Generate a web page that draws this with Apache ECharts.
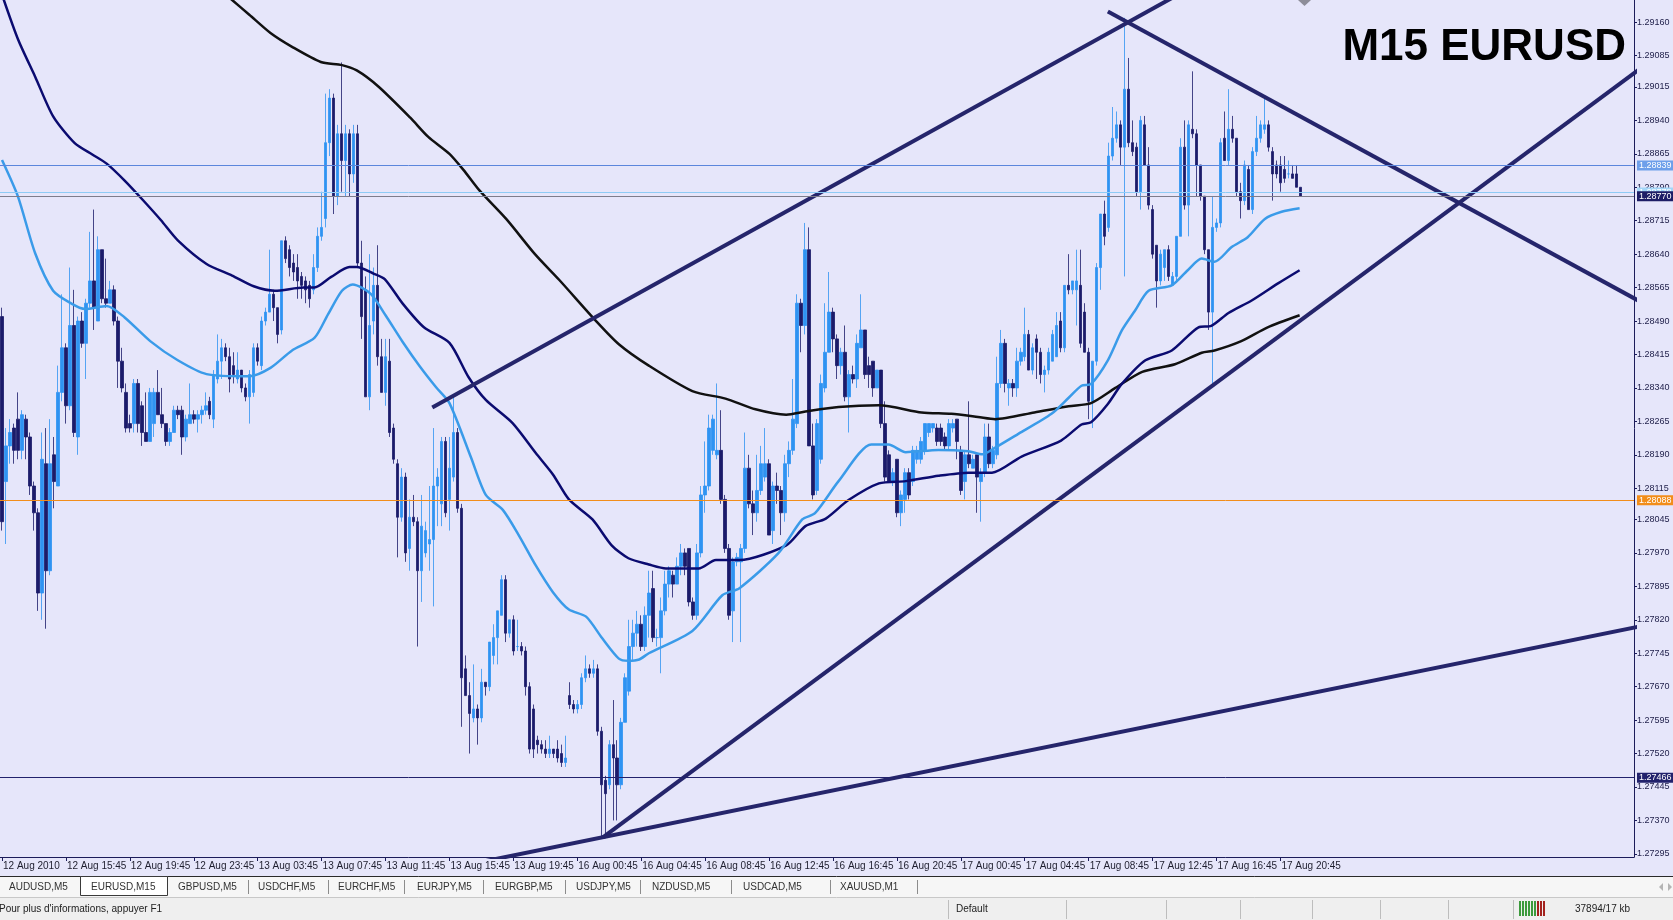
<!DOCTYPE html>
<html><head><meta charset="utf-8">
<script src="https://cdn.jsdelivr.net/npm/echarts@6/dist/echarts.min.js"></script>
<style>html,body{margin:0;padding:0;background:#e6e6fa;overflow:hidden}#c{width:1673px;height:920px}</style>
</head><body><div id="c"></div><script>
// ---- data ----
const xTickLabels = ['12 Aug 2010','12 Aug 15:45','12 Aug 19:45','12 Aug 23:45','13 Aug 03:45','13 Aug 07:45','13 Aug 11:45','13 Aug 15:45','13 Aug 19:45','16 Aug 00:45','16 Aug 04:45','16 Aug 08:45','16 Aug 12:45','16 Aug 16:45','16 Aug 20:45','17 Aug 00:45','17 Aug 04:45','17 Aug 08:45','17 Aug 12:45','17 Aug 16:45','17 Aug 20:45'];
const barsPerTick = 16;
const futureBars = 83;
const yTicks = [1.29160,1.29085,1.29015,1.28940,1.28865,1.28790,1.28715,1.28640,1.28565,1.28490,1.28415,1.28340,1.28265,1.28190,1.28115,1.28045,1.27970,1.27895,1.27820,1.27745,1.27670,1.27595,1.27520,1.27445,1.27370,1.27295];
const yMin = 1.27288, yMax = 1.29210;
// [open, close, low, high]
const candles = [
[1.2850,1.2804,1.2802,1.2852],[1.2813,1.2821,1.2799,1.2825],[1.2821,1.2824,1.2817,1.2827],[1.2825,1.2820,1.2817,1.2826],[1.2827,1.2820,1.2818,1.2833],
[1.2820,1.2828,1.2818,1.2829],[1.2827,1.2823,1.2818,1.2828],[1.2823,1.2812,1.2810,1.2824],[1.2812,1.2806,1.2802,1.2813],[1.2806,1.2788,1.2784,1.2807],
[1.2788,1.2818,1.2782,1.2824],[1.2817,1.2793,1.2780,1.2825],[1.2793,1.2817,1.2792,1.2827],[1.2819,1.2813,1.2807,1.2823],[1.2812,1.2833,1.2812,1.2839],
[1.2833,1.2843,1.2831,1.2855],[1.2843,1.2830,1.2826,1.2844],[1.2830,1.2848,1.2829,1.2861],[1.2848,1.2824,1.2823,1.2856],[1.2823,1.2849,1.2819,1.2850],
[1.2849,1.2844,1.2843,1.2851],[1.2844,1.2853,1.2836,1.2854],[1.2853,1.2858,1.2852,1.2869],[1.2858,1.2852,1.2847,1.2874],[1.2849,1.2865,1.2849,1.2868],
[1.2865,1.2854,1.2853,1.2865],[1.2854,1.2853,1.2852,1.2863],[1.2853,1.2856,1.2853,1.2858],[1.2856,1.2849,1.2848,1.2857],[1.2849,1.2840,1.2834,1.2850],
[1.2840,1.2834,1.2833,1.2843],[1.2833,1.2825,1.2824,1.2835],[1.2826,1.2825,1.2824,1.2828],[1.2826,1.2835,1.2824,1.2836],[1.2835,1.2826,1.2824,1.2836],
[1.2830,1.2824,1.2821,1.2831],[1.2824,1.2822,1.2822,1.2833],[1.2822,1.2833,1.2822,1.2834],[1.2826,1.2833,1.2823,1.2834],[1.2833,1.2828,1.2828,1.2838],
[1.2828,1.2826,1.2825,1.2834],[1.2826,1.2822,1.2821,1.2826],[1.2822,1.2824,1.2821,1.2825],[1.2824,1.2829,1.2824,1.2830],[1.2829,1.2828,1.2827,1.2830],
[1.2829,1.2823,1.2819,1.2830],[1.2823,1.2827,1.2822,1.2828],[1.2826,1.2828,1.2826,1.2835],[1.2828,1.2827,1.2826,1.2829],[1.2827,1.2828,1.2824,1.2829],
[1.2828,1.2829,1.2826,1.2830],[1.2829,1.2830,1.2828,1.2833],[1.2831,1.2828,1.2827,1.2832],[1.2827,1.2837,1.2825,1.2838],[1.2836,1.2840,1.2835,1.2846],
[1.2840,1.2843,1.2836,1.2845],[1.2843,1.2841,1.2840,1.2844],[1.2841,1.2836,1.2833,1.2843],[1.2839,1.2837,1.2835,1.2842],[1.2836,1.2838,1.2835,1.2842],
[1.2838,1.2834,1.2833,1.2838],[1.2834,1.2832,1.2831,1.2835],[1.2832,1.2837,1.2826,1.2838],[1.2833,1.2843,1.2832,1.2844],[1.2843,1.2840,1.2839,1.2844],
[1.2839,1.2849,1.2838,1.2850],[1.2849,1.2851,1.2848,1.2852],[1.2851,1.2855,1.2851,1.2865],[1.2855,1.2852,1.2849,1.2856],[1.2852,1.2846,1.2844,1.2852],
[1.2847,1.2867,1.2846,1.2867],[1.2867,1.2863,1.2862,1.2868],[1.2865,1.2861,1.2859,1.2866],[1.2862,1.2860,1.2858,1.2864],[1.2861,1.2858,1.2854,1.2864],
[1.2859,1.2857,1.2854,1.2860],[1.2858,1.2856,1.2853,1.2859],[1.2857,1.2854,1.2852,1.2858],[1.2856,1.2861,1.2855,1.2864],[1.2861,1.2868,1.2860,1.2870],
[1.2868,1.2870,1.2867,1.2878],[1.2872,1.2889,1.2870,1.2900],[1.2889,1.2899,1.2886,1.2901],[1.2899,1.2877,1.2873,1.2900],[1.2877,1.2891,1.2875,1.2893],
[1.2891,1.2885,1.2878,1.2907],[1.2885,1.2891,1.2877,1.2893],[1.2891,1.2882,1.2877,1.2892],[1.2882,1.2891,1.2880,1.2893],[1.2891,1.2862,1.2861,1.2893],
[1.2862,1.2850,1.2845,1.2867],[1.2856,1.2832,1.2832,1.2859],[1.2832,1.2848,1.2829,1.2864],[1.2849,1.2857,1.2846,1.2861],[1.2857,1.2841,1.2839,1.2866],
[1.2841,1.2833,1.2833,1.2845],[1.2833,1.2841,1.2830,1.2845],[1.2840,1.2824,1.2823,1.2845],[1.2825,1.2818,1.2817,1.2826],[1.2817,1.2805,1.2796,1.2818],
[1.2805,1.2814,1.2804,1.2816],[1.2814,1.2797,1.2795,1.2815],[1.2798,1.2805,1.2793,1.2809],[1.2805,1.2804,1.2803,1.2810],[1.2804,1.2793,1.2776,1.2805],
[1.2793,1.2803,1.2786,1.2810],[1.2797,1.2802,1.2796,1.2804],[1.2799,1.2800,1.2793,1.2812],[1.2800,1.2812,1.2785,1.2825],[1.2812,1.2814,1.2803,1.2816],
[1.2808,1.2822,1.2803,1.2823],[1.2822,1.2806,1.2805,1.2823],[1.2809,1.2816,1.2802,1.2823],[1.2814,1.2824,1.2813,1.2832],[1.2824,1.2807,1.2806,1.2825],
[1.2807,1.2769,1.2758,1.2808],[1.2771,1.2765,1.2765,1.2774],[1.2765,1.2761,1.2752,1.2768],[1.2760,1.2762,1.2759,1.2772],[1.2762,1.2760,1.2754,1.2763],
[1.2760,1.2768,1.2759,1.2771],[1.2768,1.2767,1.2765,1.2768],[1.2767,1.2777,1.2766,1.2777],[1.2774,1.2778,1.2772,1.2781],[1.2778,1.2784,1.2772,1.2784],
[1.2783,1.2791,1.2783,1.2792],[1.2791,1.2779,1.2777,1.2792],[1.2779,1.2782,1.2778,1.2782],[1.2782,1.2775,1.2774,1.2783],[1.2776,1.2776,1.2775,1.2782],
[1.2776,1.2775,1.2774,1.2777],[1.2775,1.2767,1.2765,1.2776],[1.2767,1.2753,1.2752,1.2768],[1.2762,1.2753,1.2751,1.2763],[1.2755,1.2754,1.2752,1.2756],
[1.2754,1.2753,1.2752,1.2755],[1.2753,1.2752,1.2751,1.2755],[1.2752,1.2753,1.2751,1.2756],[1.2753,1.2752,1.2751,1.2753],[1.2753,1.2751,1.2750,1.2755],
[1.2752,1.2750,1.2749,1.2754],[1.2750,1.2751,1.2749,1.2756],[1.2765,1.2763,1.2762,1.2768],[1.2763,1.2762,1.2761,1.2764],[1.2762,1.2763,1.2761,1.2764],
[1.2763,1.2769,1.2762,1.2770],[1.2769,1.2771,1.2768,1.2774],[1.2771,1.2770,1.2769,1.2772],[1.2770,1.2771,1.2769,1.2773],[1.2771,1.2757,1.2756,1.2772],
[1.2757,1.2745,1.2733,1.2758],[1.2746,1.2743,1.2733,1.2747],[1.2745,1.2754,1.2744,1.2755],[1.2754,1.2751,1.2737,1.2764],[1.2751,1.2745,1.2737,1.2755],
[1.2745,1.2759,1.2744,1.2760],[1.2759,1.2769,1.2759,1.2770],[1.2766,1.2776,1.2765,1.2782],[1.2776,1.2779,1.2773,1.2782],[1.2779,1.2781,1.2776,1.2784],
[1.2781,1.2776,1.2775,1.2783],[1.2776,1.2783,1.2775,1.2785],[1.2783,1.2788,1.2778,1.2793],[1.2789,1.2778,1.2777,1.2793],[1.2778,1.2778,1.2776,1.2780],
[1.2778,1.2784,1.2770,1.2787],[1.2784,1.2790,1.2783,1.2793],[1.2790,1.2793,1.2787,1.2794],[1.2792,1.2790,1.2787,1.2793],[1.2790,1.2794,1.2790,1.2796],
[1.2794,1.2797,1.2792,1.2799],[1.2797,1.2794,1.2792,1.2798],[1.2798,1.2786,1.2785,1.2798],[1.2786,1.2783,1.2782,1.2787],[1.2783,1.2797,1.2782,1.2799],
[1.2797,1.2810,1.2796,1.2812],[1.2810,1.2812,1.2806,1.2822],[1.2812,1.2825,1.2811,1.2828],[1.2820,1.2827,1.2819,1.2828],[1.2819,1.2820,1.2818,1.2835],
[1.2820,1.2809,1.2808,1.2829],[1.2809,1.2798,1.2797,1.2810],[1.2798,1.2783,1.2782,1.2799],[1.2784,1.2795,1.2777,1.2796],[1.2795,1.2796,1.2794,1.2797],
[1.2795,1.2798,1.2777,1.2799],[1.2798,1.2816,1.2797,1.2824],[1.2816,1.2808,1.2807,1.2819],[1.2808,1.2806,1.2801,1.2811],[1.2806,1.2811,1.2804,1.2819],
[1.2811,1.2817,1.2810,1.2821],[1.2814,1.2817,1.2813,1.2825],[1.2817,1.2801,1.2801,1.2818],[1.2802,1.2812,1.2799,1.2813],[1.2812,1.2811,1.2808,1.2815],
[1.2811,1.2806,1.2801,1.2812],[1.2806,1.2817,1.2804,1.2819],[1.2817,1.2820,1.2814,1.2822],[1.2820,1.2827,1.2819,1.2836],[1.2826,1.2853,1.2825,1.2855],
[1.2853,1.2848,1.2842,1.2854],[1.2848,1.2865,1.2846,1.2871],[1.2865,1.2821,1.2821,1.2870],[1.2821,1.2810,1.2809,1.2826],[1.2811,1.2826,1.2810,1.2827],
[1.2818,1.2835,1.2817,1.2837],[1.2834,1.2842,1.2833,1.2853],[1.2842,1.2851,1.2842,1.2860],[1.2851,1.2845,1.2842,1.2852],[1.2845,1.2839,1.2836,1.2846],
[1.2839,1.2842,1.2837,1.2843],[1.2842,1.2832,1.2831,1.2848],[1.2832,1.2837,1.2824,1.2838],[1.2837,1.2836,1.2835,1.2839],[1.2836,1.2844,1.2834,1.2846],
[1.2843,1.2847,1.2843,1.2855],[1.2847,1.2837,1.2836,1.2847],[1.2839,1.2837,1.2834,1.2841],[1.2840,1.2834,1.2832,1.2840],[1.2834,1.2838,1.2834,1.2838],
[1.2838,1.2826,1.2825,1.2838],[1.2826,1.2814,1.2813,1.2831],[1.2819,1.2813,1.2813,1.2820],[1.2813,1.2815,1.2812,1.2816],[1.2818,1.2806,1.2805,1.2818],
[1.2806,1.2810,1.2803,1.2811],[1.2809,1.2815,1.2806,1.2816],[1.2815,1.2810,1.2809,1.2816],[1.2813,1.2820,1.2812,1.2821],[1.2818,1.2820,1.2817,1.2821],
[1.2818,1.2822,1.2817,1.2823],[1.2820,1.2826,1.2819,1.2826],[1.2824,1.2826,1.2823,1.2826],[1.2825,1.2826,1.2824,1.2826],[1.2825,1.2822,1.2821,1.2826],
[1.2825,1.2822,1.2821,1.2826],[1.2823,1.2821,1.2820,1.2824],[1.2821,1.2826,1.2820,1.2827],[1.2825,1.2826,1.2824,1.2827],[1.2827,1.2822,1.2818,1.2827],
[1.2820,1.2811,1.2810,1.2821],[1.2813,1.2819,1.2809,1.2820],[1.2819,1.2817,1.2816,1.2831],[1.2816,1.2818,1.2816,1.2819],[1.2819,1.2814,1.2806,1.2819],
[1.2813,1.2815,1.2804,1.2816],[1.2815,1.2823,1.2814,1.2826],[1.2823,1.2817,1.2816,1.2826],[1.2817,1.2820,1.2816,1.2821],[1.2819,1.2835,1.2818,1.2841],
[1.2835,1.2844,1.2834,1.2847],[1.2844,1.2835,1.2833,1.2845],[1.2834,1.2835,1.2830,1.2836],[1.2835,1.2834,1.2832,1.2836],[1.2834,1.2840,1.2832,1.2843],
[1.2840,1.2842,1.2839,1.2843],[1.2841,1.2846,1.2840,1.2852],[1.2846,1.2838,1.2838,1.2847],[1.2838,1.2843,1.2837,1.2844],[1.2845,1.2842,1.2836,1.2846],
[1.2842,1.2837,1.2835,1.2843],[1.2837,1.2838,1.2833,1.2839],[1.2838,1.2842,1.2837,1.2843],[1.2840,1.2846,1.2840,1.2847],[1.2841,1.2848,1.2841,1.2851],
[1.2849,1.2843,1.2842,1.2851],[1.2843,1.2857,1.2842,1.2857],[1.2857,1.2856,1.2855,1.2864],[1.2856,1.2858,1.2855,1.2858],[1.2856,1.2858,1.2848,1.2865],
[1.2857,1.2844,1.2843,1.2865],[1.2851,1.2842,1.2842,1.2853],[1.2842,1.2831,1.2827,1.2843],[1.2831,1.2840,1.2825,1.2840],[1.2840,1.2861,1.2839,1.2862],
[1.2861,1.2873,1.2856,1.2873],[1.2873,1.2868,1.2866,1.2876],[1.2870,1.2886,1.2869,1.2889],[1.2886,1.2890,1.2885,1.2897],[1.2890,1.2893,1.2889,1.2896],
[1.2893,1.2888,1.2884,1.2894],[1.2888,1.2901,1.2859,1.2917],[1.2901,1.2889,1.2888,1.2908],[1.2889,1.2887,1.2886,1.2894],[1.2888,1.2878,1.2877,1.2889],
[1.2878,1.2894,1.2874,1.2895],[1.2893,1.2884,1.2884,1.2895],[1.2884,1.2875,1.2874,1.2888],[1.2874,1.2864,1.2863,1.2875],[1.2866,1.2858,1.2852,1.2866],
[1.2858,1.2864,1.2857,1.2865],[1.2861,1.2865,1.2858,1.2865],[1.2865,1.2859,1.2858,1.2866],[1.2857,1.2859,1.2857,1.2860],[1.2859,1.2868,1.2858,1.2868],
[1.2868,1.2888,1.2868,1.2890],[1.2888,1.2875,1.2874,1.2894],[1.2875,1.2893,1.2868,1.2894],[1.2892,1.2891,1.2890,1.2905],[1.2891,1.2884,1.2877,1.2892],
[1.2884,1.2877,1.2876,1.2884],[1.2877,1.2865,1.2864,1.2877],[1.2865,1.2851,1.2847,1.2865],[1.2851,1.2870,1.2835,1.2877],[1.2870,1.2871,1.2869,1.2872],
[1.2871,1.2889,1.2870,1.2890],[1.2890,1.2885,1.2885,1.2896],[1.2885,1.2892,1.2884,1.2901],[1.2892,1.2890,1.2889,1.2895],[1.2890,1.2878,1.2877,1.2890],
[1.2878,1.2876,1.2872,1.2880],[1.2876,1.2884,1.2875,1.2885],[1.2883,1.2874,1.2874,1.2884],[1.2874,1.2887,1.2873,1.2888],[1.2887,1.2890,1.2886,1.2895],
[1.2890,1.2893,1.2889,1.2894],[1.2892,1.2893,1.2891,1.2899],[1.2893,1.2888,1.2887,1.2894],[1.2887,1.2882,1.2876,1.2888],[1.2884,1.2882,1.2881,1.2885],
[1.2884,1.2880,1.2878,1.2886],[1.2883,1.2881,1.2880,1.2886],[1.2882,1.2882,1.2881,1.2885],[1.2882,1.2881,1.2881,1.2884],[1.2882,1.2879,1.2879,1.2884],
[1.2879,1.2877,1.2877,1.2879]
];
// moving averages: [bar index, price]
const maFast = [[0,1.28851],[4,1.28769],[8.3,1.28642],[12.8,1.28558],[17.4,1.28529],[20.8,1.28517],[26.2,1.28524],[30.7,1.28498],[37.1,1.28445],[44,1.28402],[51.2,1.28371],[61.9,1.28366],[67.2,1.28385],[72.6,1.28424],[78.2,1.28452],[81.6,1.28505],[85.1,1.28558],[87.8,1.28572],[92.3,1.28551],[96,1.28503],[100.3,1.28443],[104.6,1.28388],[108.6,1.28342],[112,1.28306],[117.4,1.28184],[121.1,1.28100],[125.4,1.28066],[129.4,1.28009],[133.6,1.27942],[137.9,1.27882],[141.9,1.27843],[146.2,1.27827],[150.2,1.27779],[154.4,1.27733],[156.8,1.27728],[159.5,1.27731],[161.9,1.27745],[172.8,1.27795],[180.3,1.27875],[184.6,1.27891],[194.4,1.27970],[200.3,1.28045],[203.5,1.28059],[209.4,1.28131],[217.6,1.28213],[221.9,1.28213],[226.2,1.28196],[234.4,1.28201],[241.9,1.28198],[245.4,1.28191],[248.6,1.28206],[254.4,1.28237],[262.7,1.28282],[267,1.28318],[270.2,1.28345],[272.6,1.28349],[276.8,1.28402],[280.3,1.28469],[283.5,1.28512],[287,1.28558],[292.8,1.28570],[296.8,1.28604],[300.3,1.28630],[303.5,1.28623],[307.8,1.28656],[311.8,1.28678],[316.1,1.28719],[320.3,1.28735],[324.8,1.28743]];
const maMid = [[0,1.29222],[4,1.29122],[8.3,1.29038],[12.8,1.28949],[18.2,1.28889],[22.7,1.28863],[26.2,1.28843],[30.7,1.28805],[35.2,1.28762],[39.8,1.28716],[44,1.28671],[51.2,1.28618],[57.6,1.28592],[63,1.28568],[68.3,1.28558],[75.5,1.28565],[78.2,1.28565],[82.4,1.28589],[87,1.28611],[88.8,1.28611],[93.1,1.28596],[95.8,1.28584],[100.3,1.28529],[105.6,1.28476],[112,1.28441],[116.8,1.28364],[121.1,1.28313],[127.8,1.28261],[133.6,1.28194],[137.9,1.28146],[141.9,1.28090],[147.8,1.28045],[152.6,1.27987],[156.8,1.27958],[161.9,1.27944],[166.2,1.27935],[174.4,1.27935],[178.7,1.27954],[184.6,1.27954],[196.3,1.27987],[201.1,1.28030],[206.2,1.28047],[211.8,1.28088],[219.5,1.28126],[226.2,1.28131],[234.4,1.28143],[241.9,1.28150],[247.8,1.28150],[255.2,1.28186],[265.1,1.28222],[270.2,1.28258],[272.6,1.28263],[276.8,1.28304],[280.3,1.28349],[286.2,1.28402],[292.8,1.28424],[299.5,1.28476],[302.7,1.28479],[307,1.28508],[312.8,1.28536],[319.5,1.28575],[324.8,1.28604]];
const maSlow = [[56,1.29222],[57.6,1.29210],[61.9,1.29177],[67.2,1.29136],[72.6,1.29105],[79.8,1.29071],[85.1,1.29064],[88.8,1.29052],[94.2,1.29016],[102.2,1.28946],[106.7,1.28903],[112,1.28865],[115.5,1.28829],[119.5,1.28783],[126.2,1.28719],[133.4,1.28640],[139.5,1.28582],[148.6,1.28491],[154.4,1.28438],[161.9,1.28390],[172.8,1.28333],[181.1,1.28316],[188.6,1.28292],[196.3,1.28280],[201.1,1.28287],[209.4,1.28297],[219.5,1.28301],[230.2,1.28285],[237.6,1.28282],[244.3,1.28275],[248.6,1.28270],[258.4,1.28285],[267,1.28299],[272.6,1.28306],[278.7,1.28340],[285.4,1.28376],[293.6,1.28393],[300.3,1.28419],[303.5,1.28424],[310.2,1.28445],[316.8,1.28476],[324.8,1.28503]];
const trendLines = [
  [[107.7,1.28296],[300,1.29250]],
  [[276.8,1.29184],[412,1.28524]],
  [[150.4,1.27332],[412,1.29069]],
  [[120,1.27277],[412,1.27809]]
];
const levelValues = [1.28839, 1.28778, 1.28770, 1.28088, 1.27466];
const pivotNames = ['R1','DPV','S1'];
const pivotValues = [1.28839, 1.28088, 1.27466];
const pivotBar = 217.8;
const tabNames = ['AUDUSD,M5','EURUSD,M15','GBPUSD,M5','USDCHF,M5','EURCHF,M5','EURJPY,M5','EURGBP,M5','USDJPY,M5','NZDUSD,M5','USDCAD,M5','XAUUSD,M1'];
const statusTexts = ["Pour plus d'informations, appuyer F1", 'Default', '37894/17 kb'];
const titleText = 'M15 EURUSD';

// ---- chart ----
const FONT = '"Liberation Sans", Arial, sans-serif';
const N = candles.length + futureBars;
const categories = Array.from({length: N}, (_, i) => String(i));
const isTick = (i) => i % barsPerTick === 0 && i / barsPerTick < xTickLabels.length;

const levelStyles = [
  {line:'#5b86dc', box:'#6d9fea'},
  {line:'#8ecbf5', box:'#a4d6f8'},
  {line:'#7d7d8c', box:'#1d1d66'},
  {line:'#f28d1a', box:'#f28d1a'},
  {line:'#22226c', box:'#22226c'}
];

const ui = [];
// tab bar
ui.push({type:'rect', silent:true, shape:{x:0,y:876,width:1673,height:21}, style:{fill:'#f6f6f6'}});
ui.push({type:'line', silent:true, shape:{x1:0,y1:876.5,x2:1673,y2:876.5}, style:{stroke:'#2a2a2a',lineWidth:1}});
ui.push({type:'rect', silent:true, shape:{x:80.5,y:876.5,width:87,height:19}, style:{fill:'#ffffff',stroke:'#3a3a3a',lineWidth:1}});
const tabLeft = [9,91,178,258,338,417,495,576,652,743,840];
tabNames.forEach((t,k) => ui.push({type:'text', silent:true, x:tabLeft[k], y:887, style:{text:t, font:'10px '+FONT, fill:'#333', verticalAlign:'middle'}}));
[248,328,404,483,565,640,731,830,917].forEach(x => ui.push({type:'line', silent:true, shape:{x1:x+0.5,y1:880,x2:x+0.5,y2:894}, style:{stroke:'#8c8c8c',lineWidth:1}}));
ui.push({type:'polygon', silent:true, shape:{points:[[1663,883],[1663,891],[1659,887]]}, style:{fill:'#b4b4b4'}});
ui.push({type:'polygon', silent:true, shape:{points:[[1668,883],[1668,891],[1672,887]]}, style:{fill:'#b4b4b4'}});
// status bar
ui.push({type:'rect', silent:true, shape:{x:0,y:897,width:1673,height:23}, style:{fill:'#efefef'}});
ui.push({type:'line', silent:true, shape:{x1:0,y1:897.5,x2:1673,y2:897.5}, style:{stroke:'#c8c8c8',lineWidth:1}});
[948,1066,1166,1240,1312,1380,1448,1513].forEach(x => ui.push({type:'line', silent:true, shape:{x1:x+0.5,y1:900,x2:x+0.5,y2:919}, style:{stroke:'#bdbdbd',lineWidth:1}}));
ui.push({type:'text', silent:true, x:-1, y:909, style:{text:statusTexts[0], font:'10px '+FONT, fill:'#222', verticalAlign:'middle'}});
ui.push({type:'text', silent:true, x:956, y:909, style:{text:statusTexts[1], font:'10px '+FONT, fill:'#222', verticalAlign:'middle'}});
ui.push({type:'text', silent:true, x:1575, y:909, style:{text:statusTexts[2], font:'10px '+FONT, fill:'#222', verticalAlign:'middle'}});
for (let k = 0; k < 9; k++) {
  ui.push({type:'rect', silent:true, shape:{x:1519+k*3, y:901, width:2, height:15}, style:{fill: k < 6 ? '#3c9a3c' : '#a3221e'}});
}
// title
ui.push({type:'text', silent:true, x:1626, y:48, style:{text:titleText, font:'bold 44px '+FONT, fill:'#000', align:'right', verticalAlign:'middle'}});
// small marker at top
ui.push({type:'polygon', silent:true, shape:{points:[[1298,0],[1311,0],[1304.5,6]]}, style:{fill:'#8d8d99'}});

const chart = echarts.init(document.getElementById('c'), null, {width:1673, height:920});
const option = {
  animation: false,
  backgroundColor: '#e6e6fa',
  textStyle: {fontFamily: FONT},
  grid: {left: 0, top: 0, right: 39, bottom: 63, containLabel: false},
  xAxis: [
    {
      type: 'category', data: categories, boundaryGap: true,
      axisLine: {show: true, onZero: false, lineStyle: {color: '#1c1c5a', width: 1}},
      axisTick: {show: true, interval: (i) => isTick(i), alignWithLabel: true, length: 4, lineStyle: {color: '#1c1c5a'}},
      axisLabel: {show: true, interval: (i) => isTick(i), formatter: (v, i) => isTick(i) ? xTickLabels[i / barsPerTick] : '',
                  align: 'left', margin: 4, fontSize: 10, color: '#1e1e2e', fontFamily: FONT, padding: [0,0,0,1]},
      splitLine: {show: false}
    },
    {type: 'value', show: false, min: -0.5, max: N - 0.5, axisLine: {onZero: false}}
  ],
  yAxis: {
    type: 'value', position: 'right', min: yMin, max: yMax, scale: true,
    axisLine: {show: true, onZero: false, lineStyle: {color: '#1c1c5a', width: 1}},
    axisTick: {show: true, length: 3, customValues: yTicks, lineStyle: {color: '#1c1c5a'}},
    axisLabel: {show: true, customValues: yTicks, formatter: (v) => v.toFixed(5), margin: 3, fontSize: 9, color: '#23234d', fontFamily: FONT},
    splitLine: {show: false}
  },
  graphic: ui,
  series: [
    {
      type: 'candlestick', xAxisIndex: 0, yAxisIndex: 0, data: candles, barWidth: 3, z: 2,
      itemStyle: {color: '#2f93f2', color0: '#1b1b6a', borderColor: '#2f93f2', borderColor0: '#1b1b6a', borderWidth: 0.8},
      markLine: {
        silent: true, symbol: ['none','none'], animation: false, precision: 5,
        label: {show: true, position: 'end', distance: 3, formatter: (p) => Number(p.value).toFixed(5),
                color: '#ffffff', fontSize: 9, fontFamily: FONT, padding: [1,3,0,2]},
        data: levelValues.map((v, k) => ({yAxis: v, lineStyle: {color: levelStyles[k].line, width: 1, type: 'solid'},
                                          label: {backgroundColor: levelStyles[k].box}}))
      }
    },
    {type: 'line', xAxisIndex: 1, yAxisIndex: 0, data: maSlow, showSymbol: false, smooth: 0.25, z: 3,
     lineStyle: {color: '#111111', width: 2.5}},
    {type: 'line', xAxisIndex: 1, yAxisIndex: 0, data: maMid, showSymbol: false, smooth: 0.25, z: 3,
     lineStyle: {color: '#0b0b70', width: 2.5}},
    {type: 'line', xAxisIndex: 1, yAxisIndex: 0, data: maFast, showSymbol: false, smooth: 0.25, z: 3,
     lineStyle: {color: '#3a9be9', width: 2.5}},
    ...trendLines.map(seg => ({type: 'line', xAxisIndex: 1, yAxisIndex: 0, data: seg, showSymbol: false, z: 4,
      lineStyle: {color: '#25256b', width: 4}})),
    {type: 'scatter', xAxisIndex: 1, yAxisIndex: 0, symbolSize: 1, itemStyle: {opacity: 0}, z: 5,
     data: pivotValues.map(v => [pivotBar, v]),
     label: {show: true, position: 'bottom', distance: 2, formatter: (p) => pivotNames[p.dataIndex],
             color: '#8a7a4e', fontSize: 11, fontFamily: FONT}}
  ]
};
chart.setOption(option);
</script></body></html>
